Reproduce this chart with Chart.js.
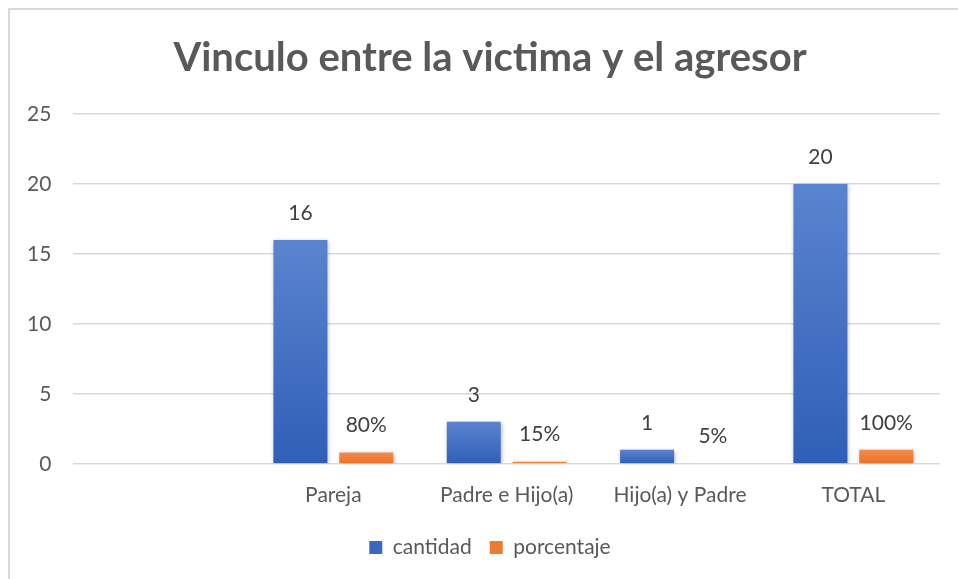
<!DOCTYPE html>
<html>
<head>
<meta charset="utf-8">
<script src="https://cdn.jsdelivr.net/npm/chart.js@4/dist/chart.umd.min.js"></script>
<style>
  html, body { margin: 0; padding: 0; background: #fff; overflow: hidden; }
  #frame { position: absolute; left: 8px; top: 8px; width: 1200px; height: 1000px; border: 2px solid #d9d9d9; }
  #wrap { position: absolute; left: 0; top: 0; width: 990px; height: 579px; }
</style>
</head>
<body>
<div id="frame"></div>
<div id="wrap"><canvas id="chart"></canvas></div>
<script>
// categorias (la primera viene vacia en la hoja original)
const categories = ['', 'Pareja', 'Padre e Hijo(a)', 'Hijo(a) y Padre', 'TOTAL'];
const cantidad = [null, 16, 3, 1, 20];
const porcentaje = [null, 0.80, 0.15, 0.05, 1.00];
const yTicks = [0, 5, 10, 15, 20, 25];

const FONT = 'Lato, "Open Sans", sans-serif';
const TXT = '#595959';

function barGradient(ctx, top, bottom) {
  const chart = ctx.chart;
  const area = chart.chartArea;
  if (!area || ctx.raw == null) return top;
  const y = chart.scales.y.getPixelForValue(ctx.raw);
  const base = chart.scales.y.getPixelForValue(0);
  const g = chart.ctx.createLinearGradient(0, y, 0, base + 0.01);
  g.addColorStop(0, top);
  g.addColorStop(1, bottom);
  return g;
}

// sombra suave + etiquetas encima de cada barra
const barExtras = {
  id: 'barExtras',
  beforeDatasetsDraw(chart) {
    const c = chart.ctx;
    c.save();
    c.shadowColor = 'rgba(0,0,0,0.28)';
    c.shadowBlur = 4;
    c.shadowOffsetX = 1;
    c.shadowOffsetY = 1;
  },
  afterDatasetsDraw(chart) {
    const c = chart.ctx;
    c.restore();
    c.save();
    c.font = '21px ' + FONT;
    c.fillStyle = '#404040';
    c.textAlign = 'center';
    c.textBaseline = 'middle';
    chart.data.datasets.forEach((ds, i) => {
      const meta = chart.getDatasetMeta(i);
      meta.data.forEach((bar, j) => {
        const v = ds.data[j];
        if (v == null) return;
        const txt = i === 1 ? Math.round(v * 100) + '%' : String(v);
        c.fillText(txt, bar.x, bar.y - 27);
      });
    });
    c.restore();
  }
};

new Chart(document.getElementById('chart'), {
  type: 'bar',
  data: {
    labels: categories,
    datasets: [
      {
        label: 'cantidad',
        data: cantidad,
        backgroundColor: ctx => barGradient(ctx, '#5b84cf', '#2f5fb7'),
        categoryPercentage: 0.76,
        barPercentage: 0.82
      },
      {
        label: 'porcentaje',
        data: porcentaje,
        backgroundColor: ctx => barGradient(ctx, '#f28c4e', '#ea7125'),
        categoryPercentage: 0.76,
        barPercentage: 0.82
      }
    ]
  },
  options: {
    responsive: true,
    maintainAspectRatio: false,
    animation: false,
    layout: { padding: { left: 5, right: 15, top: 10, bottom: 11 } },
    plugins: {
      title: {
        display: true,
        text: 'Vinculo entre la victima y el agresor',
        color: TXT,
        font: { family: FONT, size: 40, weight: 'bold' },
        padding: { top: 24, bottom: 32 }
      },
      legend: {
        position: 'bottom',
        labels: {
          color: TXT,
          font: { family: FONT, size: 21 },
          boxWidth: 13,
          boxHeight: 13,
          padding: 18,
          generateLabels(chart) {
            return chart.data.datasets.map((ds, i) => ({
              text: ds.label,
              fillStyle: i === 0 ? '#3a68c0' : '#ee7b32',
              strokeStyle: 'transparent',
              lineWidth: 0,
              fontColor: TXT,
              datasetIndex: i
            }));
          }
        }
      },
      tooltip: { enabled: false }
    },
    scales: {
      x: {
        grid: { display: false },
        border: { display: false },
        ticks: { color: TXT, font: { family: FONT, size: 21 }, padding: 11 }
      },
      y: {
        min: 0,
        max: 25,
        afterBuildTicks(scale) { scale.ticks = yTicks.map(v => ({ value: v })); },
        grid: { color: '#d9d9d9', lineWidth: 1.5, drawTicks: false },
        border: { display: false },
        ticks: { color: TXT, font: { family: FONT, size: 21 }, padding: 22 }
      },
      // eje vacio a la derecha: solo deja el margen blanco del grafico original
      yRight: {
        position: 'right',
        min: 0,
        max: 25,
        afterFit(scale) { scale.width = 35; },
        grid: { display: false },
        border: { display: false },
        ticks: { display: false }
      }
    }
  },
  plugins: [barExtras]
});
</script>
</body>
</html>
